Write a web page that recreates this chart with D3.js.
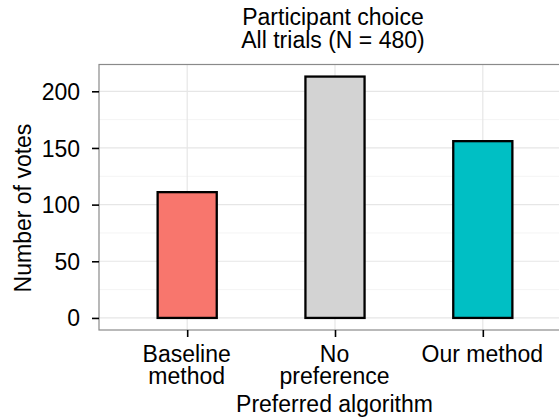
<!DOCTYPE html>
<html>
<head>
<meta charset="utf-8">
<script src="https://cdn.jsdelivr.net/npm/d3@7"></script>
<style>
  html, body { margin: 0; padding: 0; background: #fff; }
  svg { display: block; font-family: "Liberation Sans", Arial, sans-serif; }
</style>
</head>
<body>
<svg id="chart" width="559" height="420"></svg>
<script>
// ---- data ----
const categories = ["Baseline\nmethod", "No\npreference", "Our method"];
const votes = [111, 213, 156];
const barColors = ["#F8766D", "#D3D3D3", "#00BFC4"];
const yTicks = [0, 50, 100, 150, 200];
const yMinorTicks = [25, 75, 125, 175];
const titleLines = ["Participant choice", "All trials (N = 480)"];
const xTitle = "Preferred algorithm";
const yTitle = "Number of votes";

// ---- layout ----
const W = 559, H = 420;
const panel = { left: 99, top: 64.5, right: 572, bottom: 330 };
const fontSize = 23;

const svg = d3.select("#chart");
svg.append("rect").attr("width", W).attr("height", H).attr("fill", "#fff");

const x = d3.scalePoint().domain(categories).range([98.5, 571.5]).padding(0.6);
const step = x.step();
const y = d3.scaleLinear().domain([-10.65, 223.65]).range([panel.bottom, panel.top]);

const g = svg.append("g");

// minor grid
g.selectAll(".minor").data(yMinorTicks).join("line")
  .attr("x1", panel.left).attr("x2", panel.right)
  .attr("y1", d => y(d)).attr("y2", d => y(d))
  .attr("stroke", "#f4f4f4").attr("stroke-width", 1);

// major grid horizontal
g.selectAll(".majorY").data(yTicks).join("line")
  .attr("x1", panel.left).attr("x2", panel.right)
  .attr("y1", d => y(d)).attr("y2", d => y(d))
  .attr("stroke", "#e6e6e6").attr("stroke-width", 1.2);

// major grid vertical
g.selectAll(".majorX").data(categories).join("line")
  .attr("x1", d => x(d)).attr("x2", d => x(d))
  .attr("y1", panel.top).attr("y2", panel.bottom)
  .attr("stroke", "#e6e6e6").attr("stroke-width", 1.2);

// bars
const barW = step * 0.4;
g.selectAll(".bar").data(votes).join("rect")
  .attr("x", (d, i) => x(categories[i]) - barW / 2)
  .attr("width", barW)
  .attr("y", d => y(d))
  .attr("height", d => y(0) - y(d))
  .attr("fill", (d, i) => barColors[i])
  .attr("stroke", "#000")
  .attr("stroke-width", 2.3);

// panel border
g.append("rect")
  .attr("x", panel.left).attr("y", panel.top)
  .attr("width", panel.right - panel.left).attr("height", panel.bottom - panel.top)
  .attr("fill", "none").attr("stroke", "#8a8a8a").attr("stroke-width", 1.2);

// y axis
const yAxis = d3.axisLeft(y).tickValues(yTicks).tickSize(7).tickPadding(12);
const ya = svg.append("g").attr("transform", `translate(${panel.left},0)`).call(yAxis);
ya.select(".domain").remove();
ya.selectAll(".tick line").attr("stroke", "#000").attr("stroke-width", 1.6);
ya.selectAll(".tick text").attr("fill", "#000").attr("font-size", fontSize)
  .attr("font-family", "Liberation Sans, Arial, sans-serif").attr("dy", "0.35em");

// x axis
const xAxis = d3.axisBottom(x).tickSize(7).tickFormat("");
const xa = svg.append("g").attr("transform", `translate(0,${panel.bottom})`).call(xAxis);
xa.select(".domain").remove();
xa.selectAll(".tick line").attr("stroke", "#000").attr("stroke-width", 1.6);
xa.selectAll(".tick").each(function(d) {
  const lines = d.split("\n");
  const t = d3.select(this).append("text")
    .attr("fill", "#000").attr("font-size", fontSize)
    .attr("text-anchor", "middle");
  lines.forEach((ln, i) => {
    t.append("tspan").attr("x", -1).attr("y", 31.5 + i * 22).text(ln);
  });
});

// axis titles
svg.append("text")
  .attr("x", (panel.left + panel.right) / 2 - 1).attr("y", 411.5)
  .attr("text-anchor", "middle").attr("font-size", fontSize).attr("fill", "#000")
  .text(xTitle);

svg.append("text")
  .attr("transform", "translate(30.5,208) rotate(-90)")
  .attr("text-anchor", "middle").attr("font-size", fontSize).attr("fill", "#000")
  .text(yTitle);

// title
const tt = svg.append("text").attr("text-anchor", "middle").attr("font-size", fontSize).attr("fill", "#000");
titleLines.forEach((ln, i) => {
  tt.append("tspan").attr("x", (panel.left + panel.right) / 2 - 2.5).attr("y", 24.5 + i * 23).text(ln);
});
</script>
</body>
</html>
